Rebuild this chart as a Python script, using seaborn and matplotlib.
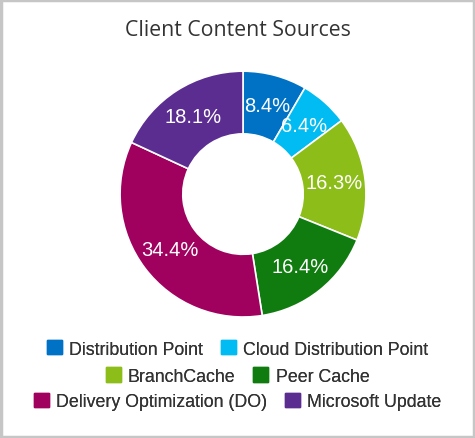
import matplotlib
matplotlib.use("Agg")
import matplotlib.pyplot as plt
import matplotlib.patches as mpatches
import seaborn as sns

sources = ['Distribution Point', 'Cloud Distribution Point', 'BranchCache',
           'Peer Cache', 'Delivery Optimization (DO)', 'Microsoft Update']
shares = [8.4, 6.4, 16.3, 16.4, 34.4, 18.1]
colors = ['#0072C6', '#00BCF2', '#8CBD18', '#107C10', '#A0005E', '#5C2D91']

sns.set_theme(style="white")
plt.rcParams['font.family'] = ['Liberation Sans', 'DejaVu Sans']

fig = plt.figure(figsize=(4.75, 4.39), dpi=100)
fig.patch.set_facecolor('white')

# light grey frame round the whole picture
fig.add_artist(mpatches.Rectangle((0.002, 0.002), 0.996, 0.995, transform=fig.transFigure,
                                  fill=False, edgecolor='#c6c6c6', linewidth=2.5))

fig.text(0.5, 0.93, 'Client Content Sources', ha='center', va='center',
         fontsize=15.3, color='#333333', family=['Open Sans', 'DejaVu Sans'])

ax = fig.add_axes([0.2526, 0.2756, 0.518, 0.560])
pal = sns.color_palette(colors)
wedges, texts, autotexts = ax.pie(
    shares, colors=pal, startangle=90, counterclock=False,
    autopct='%.1f%%', pctdistance=0.75,
    wedgeprops=dict(width=0.51, edgecolor='white', linewidth=1.2),
    textprops=dict(color='white', fontsize=14.5))
ax.set_xlim(-1.0, 1.0)
ax.set_ylim(-1.0, 1.0)
ax.axis('off')

# three centred legend rows of two entries each
rows = [(0, 1), (2, 3), (4, 5)]
row_y = [0.203, 0.141, 0.083]
for (a, b), y in zip(rows, row_y):
    handles = [mpatches.Patch(color=colors[a]), mpatches.Patch(color=colors[b])]
    leg = fig.legend(handles, [sources[a], sources[b]], loc='center',
                     bbox_to_anchor=(0.5, y), ncol=2, frameon=False,
                     fontsize=12.8, handlelength=0.85, handleheight=0.85,
                     handletextpad=0.4, columnspacing=1.0, borderaxespad=0)
    for t in leg.get_texts():
        t.set_color('#333333')
    fig.add_artist(leg)

fig.savefig('out.png', dpi=100, facecolor='white')
